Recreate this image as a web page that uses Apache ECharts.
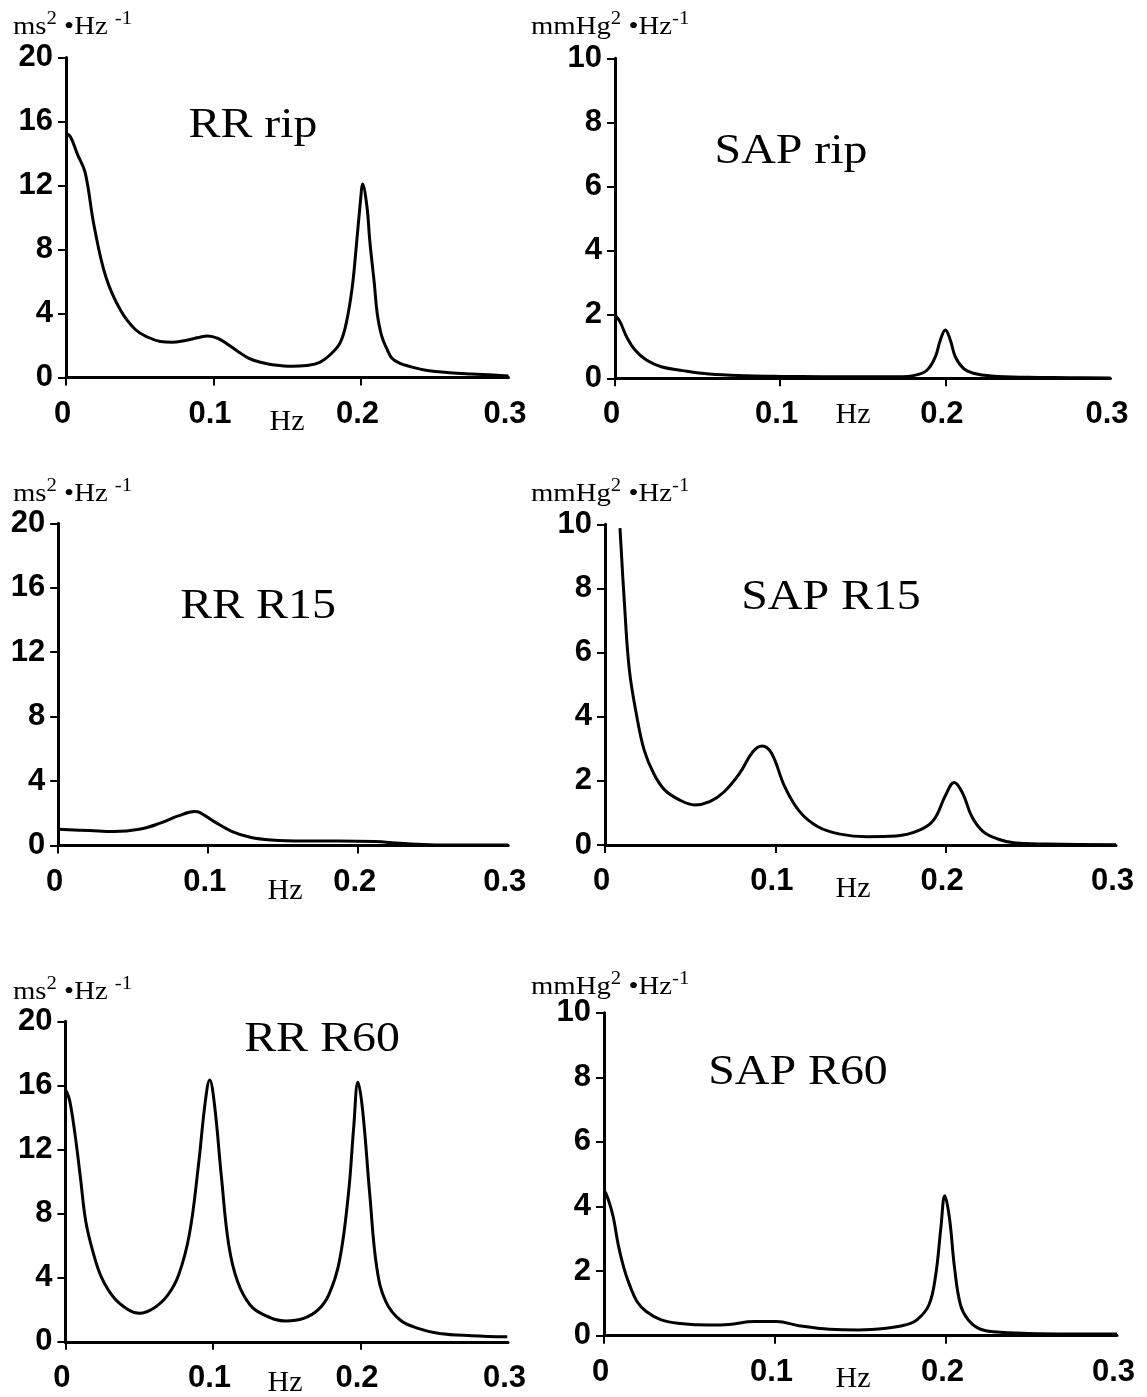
<!DOCTYPE html>
<html>
<head>
<meta charset="utf-8">
<script src="https://cdn.jsdelivr.net/npm/echarts@6/dist/echarts.min.js"></script>
<style>
  html, body { margin: 0; padding: 0; background: #fff; }
  #chart { width: 1147px; height: 1397px; }
</style>
</head>
<body>
<div id="chart"></div>
<script>
// Power spectral densities, frequency in Hz and power per panel
const rrRipHz  = [0, 0.003, 0.008, 0.013, 0.019, 0.027, 0.037, 0.047, 0.056, 0.064, 0.072, 0.08, 0.09, 0.096, 0.103, 0.11, 0.117, 0.124, 0.132, 0.14, 0.153, 0.163, 0.172, 0.18, 0.186, 0.19, 0.194, 0.197, 0.2, 0.201, 0.204, 0.206, 0.209, 0.211, 0.214, 0.218, 0.221, 0.226, 0.233, 0.245, 0.26, 0.275, 0.29, 0.3];
const rrRipPsd = [15.25, 15.05, 13.9, 12.8, 9.5, 6.3, 4.2, 3.0, 2.5, 2.25, 2.2, 2.3, 2.5, 2.6, 2.45, 2.05, 1.6, 1.2, 0.95, 0.8, 0.7, 0.75, 0.95, 1.5, 2.2, 3.4, 5.6, 8.4, 11.4, 12.1, 10.7, 8.5, 5.9, 4.0, 2.6, 1.7, 1.2, 0.9, 0.69, 0.44, 0.3, 0.22, 0.16, 0.1];

const sapRipHz  = [0, 0.003, 0.007, 0.012, 0.019, 0.028, 0.041, 0.057, 0.08, 0.1, 0.126, 0.15, 0.171, 0.182, 0.189, 0.194, 0.197, 0.2, 0.203, 0.206, 0.211, 0.217, 0.228, 0.25, 0.275, 0.3];
const sapRipPsd = [1.98, 1.77, 1.3, 0.89, 0.57, 0.36, 0.24, 0.135, 0.08, 0.06, 0.05, 0.05, 0.05, 0.1, 0.26, 0.68, 1.2, 1.51, 1.2, 0.68, 0.31, 0.16, 0.07, 0.03, 0.02, 0.01];

const rrR15Hz  = [0, 0.021, 0.037, 0.054, 0.068, 0.08, 0.091, 0.0945, 0.104, 0.116, 0.128, 0.142, 0.164, 0.187, 0.211, 0.228, 0.247, 0.27, 0.3];
const rrR15Psd = [1.01, 0.93, 0.87, 1.01, 1.39, 1.84, 2.11, 2.05, 1.49, 0.87, 0.52, 0.35, 0.29, 0.29, 0.25, 0.14, 0.06, 0.04, 0.04];

const sapR15Hz  = [0.0088, 0.0114, 0.0143, 0.0187, 0.023, 0.0286, 0.035, 0.044, 0.0527, 0.0615, 0.07, 0.079, 0.0868, 0.0923, 0.0978, 0.1055, 0.1143, 0.125, 0.138, 0.154, 0.171, 0.185, 0.193, 0.2, 0.205, 0.21, 0.2154, 0.222, 0.231, 0.24, 0.259, 0.3];
const sapR15Psd = [9.88, 7.54, 5.46, 4.0, 2.96, 2.23, 1.72, 1.4, 1.25, 1.35, 1.66, 2.23, 2.91, 3.09, 2.86, 1.82, 1.04, 0.57, 0.34, 0.26, 0.28, 0.47, 0.78, 1.56, 1.95, 1.61, 0.88, 0.42, 0.18, 0.07, 0.03, 0.01];

const rrR60Hz  = [0.0005, 0.0029, 0.0065, 0.0102, 0.0138, 0.0186, 0.0247, 0.0332, 0.0429, 0.0501, 0.0598, 0.0695, 0.0768, 0.084, 0.09, 0.0949, 0.0978, 0.101, 0.1058, 0.1107, 0.1167, 0.1252, 0.1349, 0.1494, 0.1615, 0.1712, 0.1785, 0.1857, 0.1918, 0.1954, 0.1983, 0.2015, 0.2063, 0.2111, 0.2172, 0.2269, 0.239, 0.2535, 0.2755, 0.2995];
const rrR60Psd = [15.67, 15.05, 12.96, 10.24, 7.52, 5.64, 3.97, 2.72, 1.99, 1.78, 2.09, 2.93, 4.18, 6.69, 10.87, 15.05, 16.34, 14.84, 10.24, 6.06, 3.76, 2.3, 1.67, 1.3, 1.46, 1.99, 2.93, 5.02, 9.2, 13.37, 16.2, 14.42, 9.2, 4.6, 2.51, 1.36, 0.84, 0.52, 0.38, 0.31];

const sapR60Hz  = [0.0007, 0.0028, 0.0055, 0.0083, 0.0116, 0.0149, 0.0193, 0.0247, 0.0335, 0.0444, 0.062, 0.073, 0.088, 0.101, 0.114, 0.132, 0.149, 0.165, 0.176, 0.183, 0.19, 0.194, 0.197, 0.1993, 0.202, 0.205, 0.2085, 0.213, 0.219, 0.228, 0.248, 0.3];
const sapR60Psd = [4.45, 4.17, 3.65, 2.82, 2.1, 1.58, 1.06, 0.75, 0.49, 0.38, 0.33, 0.35, 0.44, 0.44, 0.31, 0.2, 0.18, 0.23, 0.33, 0.49, 0.95, 1.89, 3.34, 4.33, 3.65, 2.1, 0.95, 0.49, 0.23, 0.12, 0.07, 0.05];

// Axis scales
const hzTicks   = [0, 0.1, 0.2, 0.3];
const rrScale   = { max: 20, step: 4 };
const sapScale  = { max: 10, step: 2 };

// Panel titles and units
const titles = ['RR rip', 'SAP rip', 'RR R15', 'SAP R15', 'RR R60', 'SAP R60'];
const rrUnit  = '{b|ms}{s|2}{b| \u2022Hz }{s|-1}';
const sapUnit = '{b|mmHg}{s|2}{b| \u2022Hz}{s|-1}';

// Layout of the six panels
const panels = [
  { hz: rrRipHz,  psd: rrRipPsd,  scale: rrScale,  unit: rrUnit,
    grid: { left: 66, top: 57.5, width: 442.5, height: 320 },
    unitPos: [13, 10], titlePos: [253, 126], hzPos: [287, 422] },
  { hz: sapRipHz, psd: sapRipPsd, scale: sapScale, unit: sapUnit,
    grid: { left: 615, top: 58.3, width: 495.5, height: 320 },
    unitPos: [531, 10], titlePos: [791, 152], hzPos: [853, 415] },
  { hz: rrR15Hz,  psd: rrR15Psd,  scale: rrScale,  unit: rrUnit,
    grid: { left: 58.2, top: 523.3, width: 450, height: 322.3 },
    unitPos: [13, 477], titlePos: [258, 607], hzPos: [285, 891] },
  { hz: sapR15Hz, psd: sapR15Psd, scale: sapScale, unit: sapUnit,
    grid: { left: 605, top: 524.3, width: 511, height: 320.7 },
    unitPos: [531, 477], titlePos: [831, 598], hzPos: [853, 889] },
  { hz: rrR60Hz,  psd: rrR60Psd,  scale: rrScale,  unit: rrUnit,
    grid: { left: 65.4, top: 1021.3, width: 442.6, height: 320.5 },
    unitPos: [13, 975], titlePos: [322, 1040], hzPos: [285, 1383] },
  { hz: sapR60Hz, psd: sapR60Psd, scale: sapScale, unit: sapUnit,
    grid: { left: 604, top: 1012.7, width: 513, height: 323 },
    unitPos: [531, 970], titlePos: [798, 1073], hzPos: [853, 1379] }
];

const AXIS_FONT = '"Liberation Sans", Arial, sans-serif';
const SERIF = '"Liberation Serif", "Times New Roman", serif';

const grids = [], xAxes = [], yAxes = [], series = [], graphics = [];

panels.forEach((p, i) => {
  grids.push(Object.assign({ containLabel: false }, p.grid));

  xAxes.push({
    type: 'value', gridIndex: i, min: 0, max: 0.3, interval: 0.1,
    axisLine: { show: true, onZero: false, lineStyle: { color: '#000', width: 3 } },
    axisTick: { show: true, inside: false, length: 8, customValues: hzTicks.slice(0, 3),
                lineStyle: { color: '#000', width: 2 } },
    axisLabel: {
      show: true, customValues: hzTicks, margin: 21, color: '#000',
      fontFamily: AXIS_FONT, fontWeight: 'bold', fontSize: 31,
      padding: [0, 7, 0, 0],
      formatter: v => (v === 0 ? '0' : v.toFixed(1))
    },
    splitLine: { show: false }
  });

  yAxes.push({
    type: 'value', gridIndex: i, min: 0, max: p.scale.max, interval: p.scale.step,
    axisLine: { show: true, onZero: false, lineStyle: { color: '#000', width: 3 } },
    axisTick: { show: true, inside: false, length: 8, lineStyle: { color: '#000', width: 2 } },
    axisLabel: {
      show: true, margin: 13, color: '#000',
      fontFamily: AXIS_FONT, fontWeight: 'bold', fontSize: 31
    },
    splitLine: { show: false }
  });

  series.push({
    type: 'line', xAxisIndex: i, yAxisIndex: i,
    data: p.hz.map((f, k) => [f, p.psd[k]]),
    smooth: 0.4, showSymbol: false, symbol: 'none',
    lineStyle: { color: '#000', width: 3 },
    clip: true, silent: true, animation: false
  });

  // unit of the power axis
  graphics.push({
    type: 'text', x: p.unitPos[0], y: p.unitPos[1], scaleX: 1.15,
    style: {
      text: p.unit,
      rich: {
        b: { fontFamily: SERIF, fontSize: 25, fill: '#000', lineHeight: 30, verticalAlign: 'bottom' },
        s: { fontFamily: SERIF, fontSize: 18, fill: '#000', lineHeight: 30, verticalAlign: 'top' }
      }
    }
  });

  // panel title
  graphics.push({
    type: 'text', x: p.titlePos[0], y: p.titlePos[1], scaleX: 1.14,
    style: {
      text: titles[i], font: '42px ' + SERIF, fill: '#000',
      textAlign: 'center', textVerticalAlign: 'middle'
    }
  });

  // frequency axis name
  graphics.push({
    type: 'text', x: p.hzPos[0], y: p.hzPos[1],
    style: {
      text: 'Hz', font: '30px ' + SERIF, fill: '#000',
      textAlign: 'center', textVerticalAlign: 'middle'
    }
  });
});

const chart = echarts.init(document.getElementById('chart'), null, { renderer: 'canvas' });
chart.setOption({
  backgroundColor: '#fff',
  animation: false,
  grid: grids,
  xAxis: xAxes,
  yAxis: yAxes,
  series: series,
  graphic: { elements: graphics }
});
</script>
</body>
</html>
